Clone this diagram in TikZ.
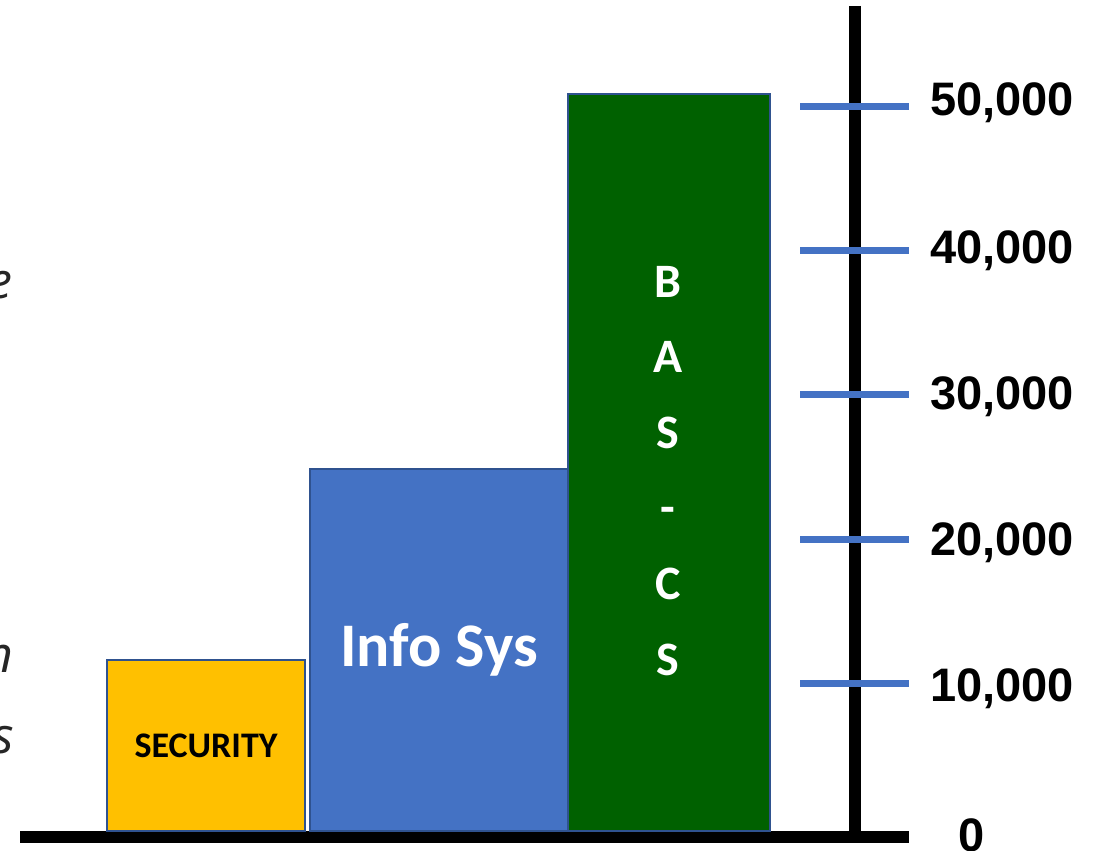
\documentclass[tikz,border=0pt]{standalone}
\usepackage{fontspec}
\setmainfont{Liberation Sans}
\newfontfamily\carlito{Carlito}
\newfontfamily\opensans{Open Sans}
\usepackage{tikz}
\definecolor{secgold}{HTML}{FFC000}
\definecolor{infoblue}{HTML}{4472C4}
\definecolor{basgreen}{HTML}{006100}
\definecolor{barrim}{HTML}{2F528F}

\begin{document}
\begin{tikzpicture}[x=1pt,y=-1pt,
  bar/.style={draw=barrim,line width=2pt,anchor=south west,inner sep=0pt},
  axisline/.style={line width=12pt},
  tickline/.style={draw=infoblue,line width=7pt},
  ticklabel/.style={font=\fontsize{47}{47}\selectfont\bfseries,anchor=base west,inner sep=0pt},
  basletter/.style={font=\fontsize{48}{48}\selectfont\carlito\bfseries,text=white,anchor=base,inner sep=0pt},
  cutword/.style={font=\fontsize{50}{50}\selectfont\opensans\itshape,text=black!85,anchor=base east,inner sep=0pt}]
\useasboundingbox (0,0) rectangle (1104,851);

\coordinate (basew) at (20,837);
\coordinate (basee) at (909,837);
\coordinate (axtop) at (855,6);
\coordinate (axbot) at (855,837);
\draw[axisline] (basew) -- (basee);
\draw[axisline] (axtop) -- (axbot);

\node[bar,fill=secgold,minimum width=198pt,minimum height=171pt,
  font=\fontsize{36}{36}\selectfont\carlito\bfseries] (security) at (106,832) {SECURITY};
\node[bar,fill=infoblue,minimum width=258pt,minimum height=362pt,text=white,
  font=\fontsize{62}{62}\selectfont\carlito\bfseries] (infosys) at (309,832) {Info Sys};
\node[bar,fill=basgreen,minimum width=202pt,minimum height=737pt] (bascs) at (567,832) {};
\foreach \ch [count=\i from 0] in {B,A,S,-,C,S}
  \node[basletter] (bas\i) at (668,{297+75.6*\i}) {\ch};

\foreach \k/\lab/\yb in {1/{10,000}/701,2/{20,000}/555,3/{30,000}/409,4/{40,000}/263,5/{50,000}/115}{
  \pgfmathsetmacro\ty{683.7-144.4*(\k-1)}
  \coordinate (tick\k w) at (800,\ty);
  \coordinate (tick\k e) at (909,\ty);
  \draw[tickline] (tick\k w) -- (tick\k e);
  \node[ticklabel] (lab\k) at (930,\yb) {\lab};
}
\node[ticklabel] (lab0) at (958,851) {0};

\node[cutword] (cute) at (13,298) {e};
\node[cutword] (cutn) at (14,672) {n};
\node[cutword] (cuts) at (14,753) {s};
\end{tikzpicture}
\end{document}
